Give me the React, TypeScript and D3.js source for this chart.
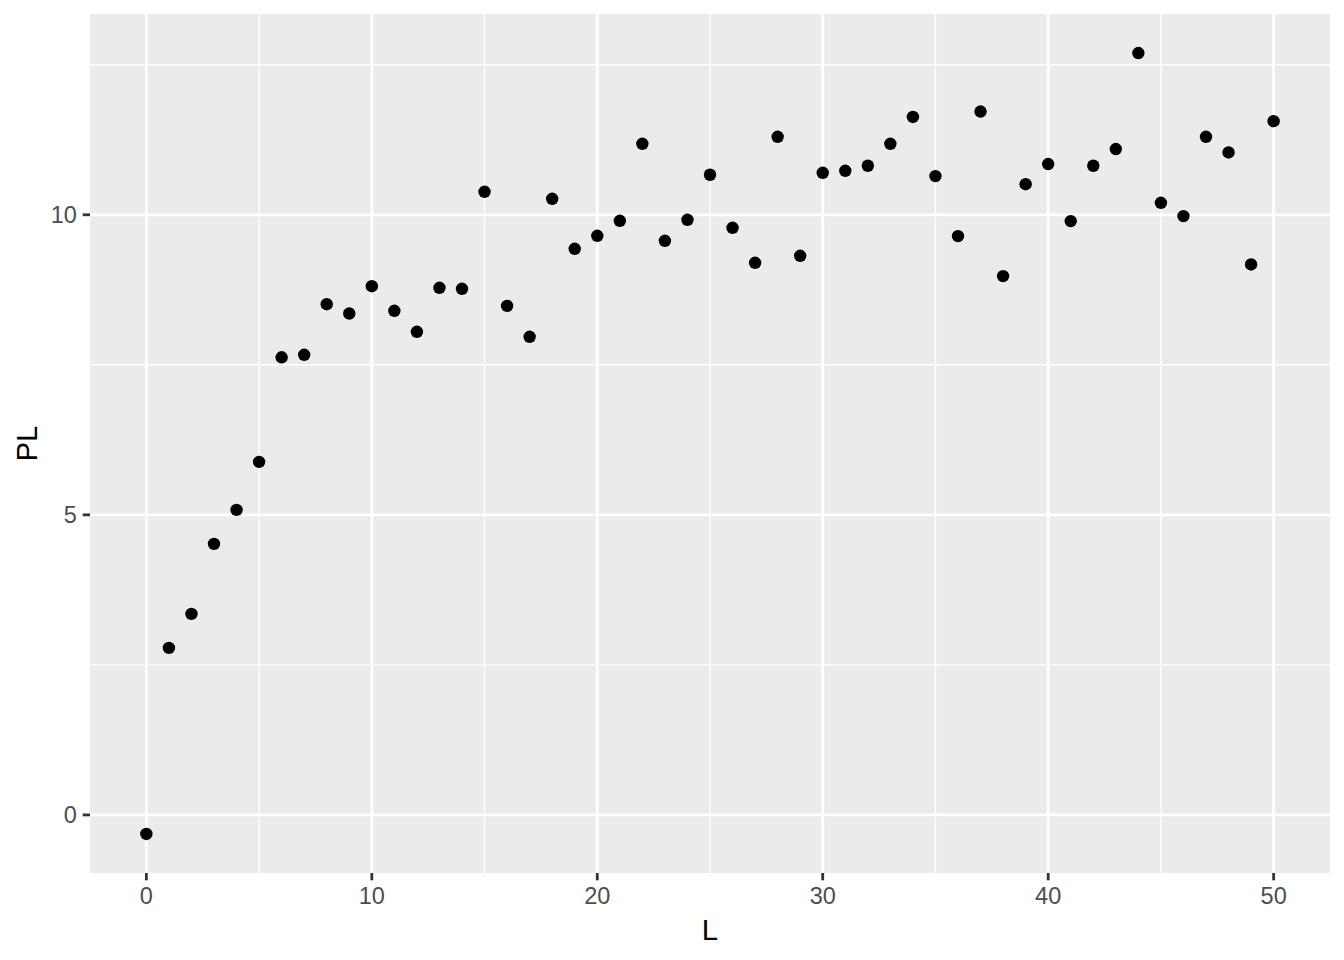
import React from "react";
import * as d3 from "d3";

const L: number[] = Array.from({ length: 51 }, (_, i) => i);
const PL: number[] = [
  -0.317, 2.783, 3.35, 4.517, 5.083, 5.883, 7.625, 7.667, 8.51, 8.355,
  8.81, 8.4, 8.05, 8.783, 8.767, 10.383, 8.483, 7.967, 10.267, 9.433,
  9.65, 9.9, 11.183, 9.567, 9.917, 10.667, 9.783, 9.2, 11.3, 9.317,
  10.7, 10.733, 10.817, 11.183, 11.63, 10.645, 9.645, 11.72, 8.978, 10.51,
  10.845, 9.895, 10.817, 11.095, 12.695, 10.2, 9.978, 11.3, 11.038, 9.172,
  11.56,
];
const xTicks: number[] = [0, 10, 20, 30, 40, 50];
const xMinor: number[] = [5, 15, 25, 35, 45];
const yTicks: number[] = [0, 5, 10];
const yMinor: number[] = [2.5, 7.5, 12.5];

const W = 1344;
const H = 960;
const panel = { left: 90, right: 1330, top: 14, bottom: 873 };
const FONT = "'Liberation Sans', Arial, Helvetica, sans-serif";

export default function App() {
  const xMin = d3.min(L)!, xMax = d3.max(L)!;
  const yMin = d3.min(PL)!, yMax = d3.max(PL)!;
  const xPad = (xMax - xMin) * 0.05;
  const yPad = (yMax - yMin) * 0.05;
  const x = d3.scaleLinear().domain([xMin - xPad, xMax + xPad]).range([panel.left, panel.right]);
  const y = d3.scaleLinear().domain([yMin - yPad, yMax + yPad]).range([panel.bottom, panel.top]);

  return (
    <svg
      width={W}
      height={H}
      style={{ position: "absolute", left: 0, top: 0, display: "block" }}
      fontFamily={FONT}
    >
      <rect x={0} y={0} width={W} height={H} fill="#ffffff" />
      <rect
        x={panel.left}
        y={panel.top}
        width={panel.right - panel.left}
        height={panel.bottom - panel.top}
        fill="#EBEBEB"
      />
      {yMinor.map((v) => (
        <line key={"ym" + v} x1={panel.left} x2={panel.right} y1={y(v)} y2={y(v)} stroke="#fff" strokeWidth={1.4} />
      ))}
      {xMinor.map((v) => (
        <line key={"xm" + v} y1={panel.top} y2={panel.bottom} x1={x(v)} x2={x(v)} stroke="#fff" strokeWidth={1.4} />
      ))}
      {yTicks.map((v) => (
        <line key={"yM" + v} x1={panel.left} x2={panel.right} y1={y(v)} y2={y(v)} stroke="#fff" strokeWidth={2.8} />
      ))}
      {xTicks.map((v) => (
        <line key={"xM" + v} y1={panel.top} y2={panel.bottom} x1={x(v)} x2={x(v)} stroke="#fff" strokeWidth={2.8} />
      ))}
      {L.map((lv, i) => (
        <circle key={"p" + i} cx={x(lv)} cy={y(PL[i])} r={6.2} fill="#000" />
      ))}
      {/* x axis */}
      {xTicks.map((v) => (
        <g key={"xt" + v}>
          <line x1={x(v)} x2={x(v)} y1={panel.bottom} y2={panel.bottom + 7.3} stroke="#333333" strokeWidth={2.8} />
          <text x={x(v)} y={904} textAnchor="middle" fontSize={23.5} fill="#4D4D4D">
            {v}
          </text>
        </g>
      ))}
      {/* y axis */}
      {yTicks.map((v) => (
        <g key={"yt" + v}>
          <line x1={panel.left - 7.3} x2={panel.left} y1={y(v)} y2={y(v)} stroke="#333333" strokeWidth={2.8} />
          <text x={panel.left - 7.3 - 5.9} y={y(v)} dy="0.36em" textAnchor="end" fontSize={23.5} fill="#4D4D4D">
            {v}
          </text>
        </g>
      ))}
      <text x={(panel.left + panel.right) / 2} y={940} textAnchor="middle" fontSize={29.3} fill="#000">
        L
      </text>
      <text
        transform={`translate(${36.5},${(panel.top + panel.bottom) / 2}) rotate(-90)`}
        textAnchor="middle"
        fontSize={29.3}
        fill="#000"
      >
        PL
      </text>
    </svg>
  );
}
